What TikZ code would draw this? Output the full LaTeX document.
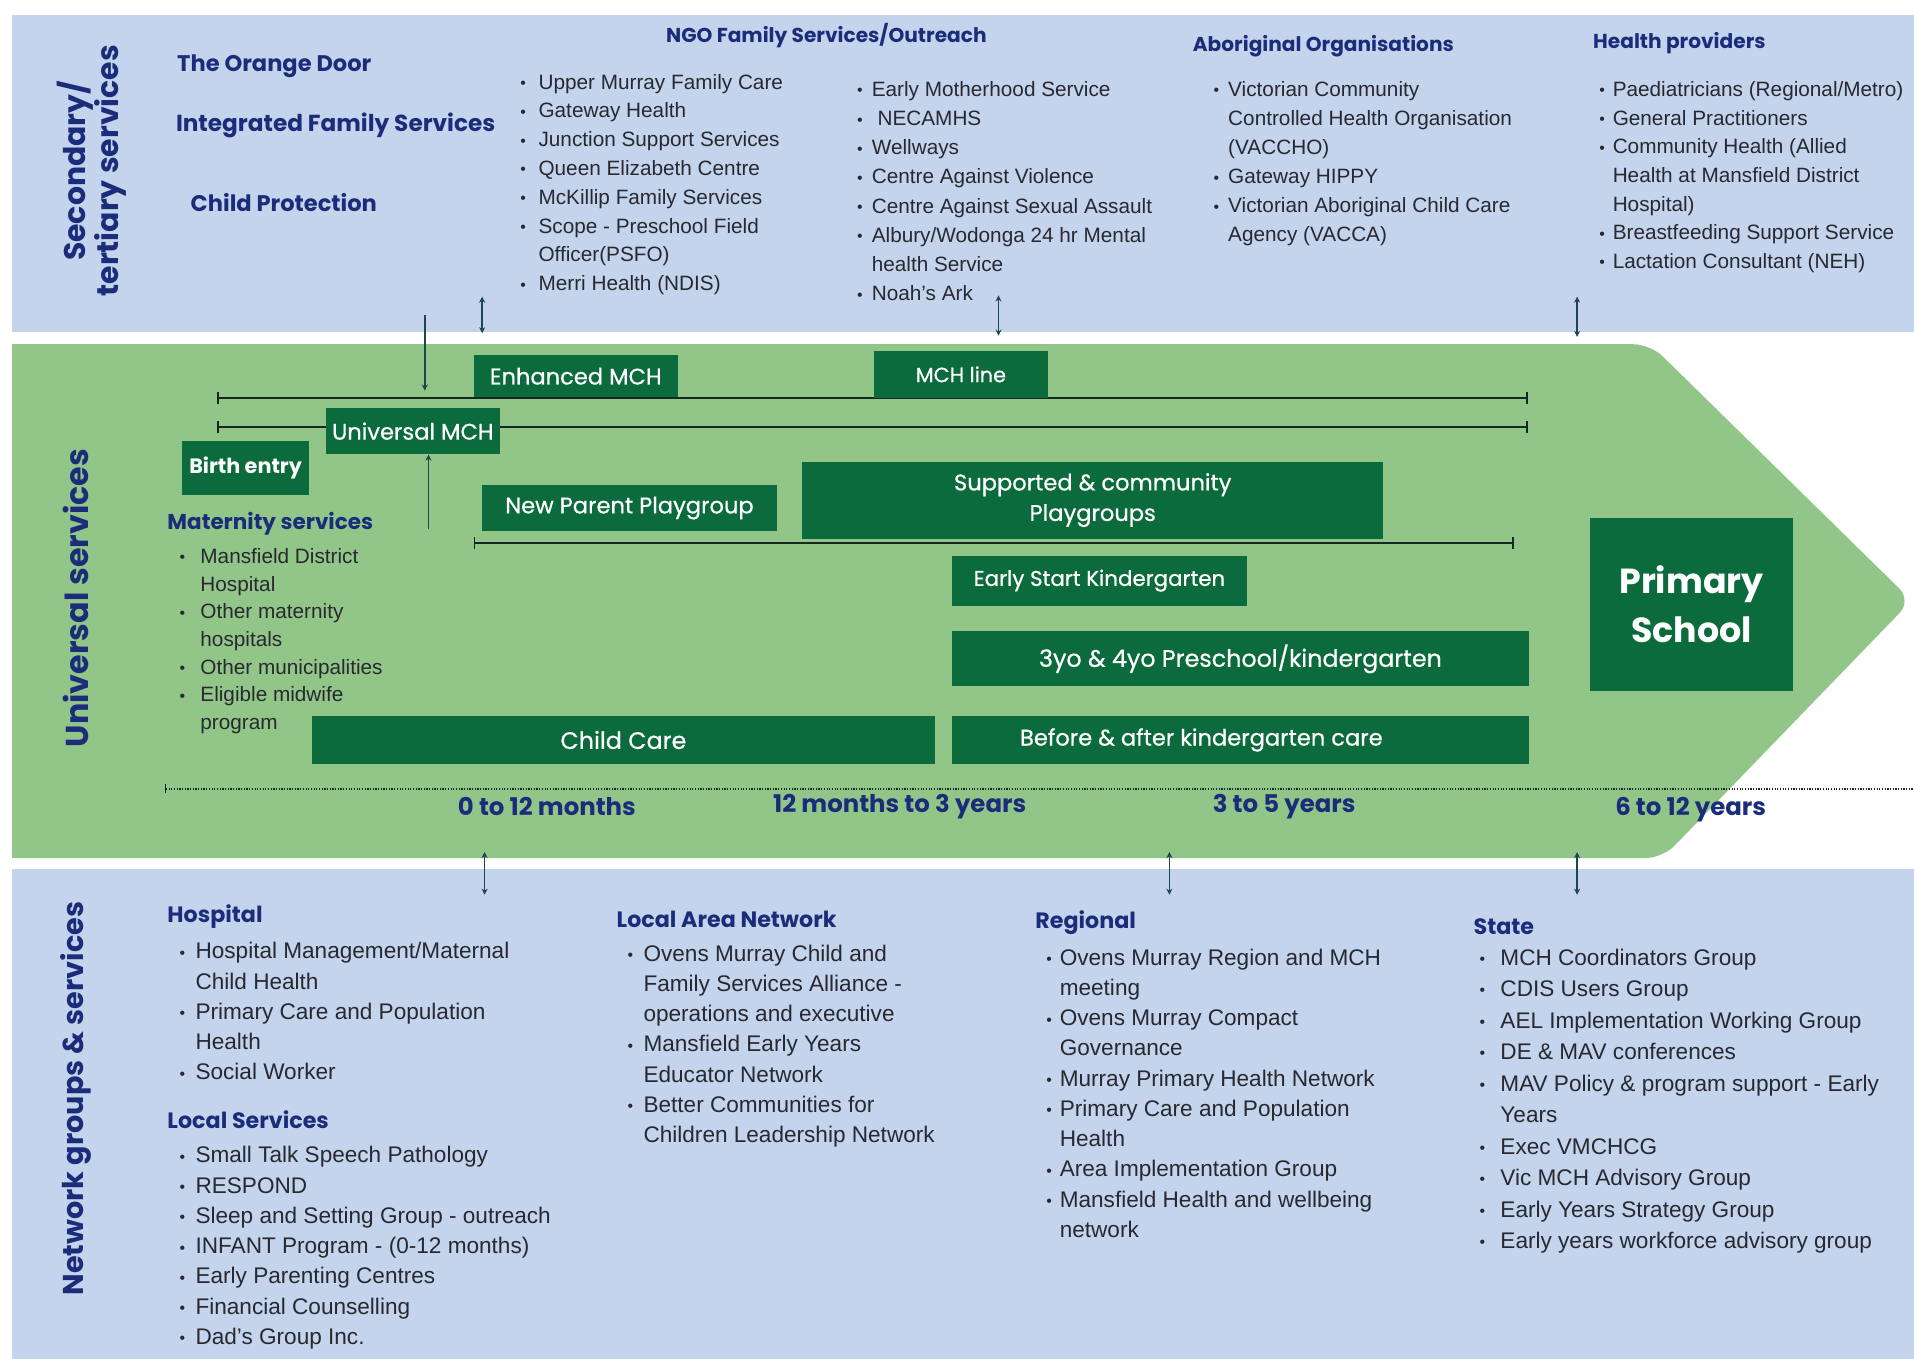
\documentclass[tikz,border=0pt]{standalone}
\usepackage{fontspec}
\setmainfont{Liberation Sans}
\newfontfamily\pop{Poppins}
\newfontfamily\popm[FakeBold=0.6]{Poppins}
\usetikzlibrary{arrows.meta}
\definecolor{panelblue}{RGB}{196,212,236}
\definecolor{panelgreen}{RGB}{146,198,137}
\definecolor{boxgreen}{RGB}{12,107,61}
\definecolor{navy}{RGB}{27,45,122}
\definecolor{bodytext}{RGB}{40,40,48}
\definecolor{linec}{RGB}{22,38,32}
\definecolor{arrc}{RGB}{30,70,80}
\newcommand\bi[2][13pt]{\makebox[#1][l]{\raisebox{0.5pt}{\fontsize{13}{13}\selectfont\textbullet}}#2}
\newcommand\ct[2][13pt]{\hspace*{#1}#2}
\tikzset{
 gbox/.style={fill=boxgreen, text=white, inner sep=0pt, anchor=north west, align=center, font=\popm\fontsize{18.5}{25}\selectfont},
 lst/.style={inner sep=0pt, anchor=north west, align=left, text=bodytext},
 hd/.style={inner sep=0pt, anchor=west, text=navy, font=\pop\bfseries\fontsize{16.5}{18}\selectfont},
 hdb/.style={inner sep=0pt, anchor=west, text=navy, font=\pop\bfseries\fontsize{18.2}{20}\selectfont},
 bighd/.style={inner sep=0pt, anchor=west, text=navy, font=\pop\bfseries\fontsize{18.5}{20}\selectfont},
 vlab/.style={inner sep=0pt, rotate=90, text=navy, align=center, font=\pop\bfseries\fontsize{24.5}{27}\selectfont},
 agelab/.style={inner sep=0pt, text=navy, font=\pop\bfseries\fontsize{20}{22}\selectfont},
 tl/.style={line width=1.8pt, draw=linec, arrows={Bar[width=10pt,line width=1.5pt]-Bar[width=10pt,line width=1.5pt]}},
 dbl/.style={line width=1.2pt, draw=arrc, arrows={Stealth[length=5pt,width=5pt]-Stealth[length=5pt,width=5pt]}},
 sgl/.style={line width=1.2pt, draw=arrc, arrows={-Stealth[length=5pt,width=5pt]}},
}
\begin{document}
\begin{tikzpicture}[x=1pt,y=-1pt]
\useasboundingbox (0,0) rectangle (1568,1113);
\fill[white] (0,0) rectangle (1568,1113);
% panels
\fill[panelblue] (10,12) rectangle (1568,272);
\fill[panelblue] (10,712) rectangle (1568,1113);
\fill[panelgreen] (10,703) -- (10,282) [rounded corners=14pt] -- (1352,282) -- (1566,492) -- (1362,703) [sharp corners] -- cycle;

% vertical labels
\node[vlab] (sec) at (75,140) {Secondary/\\tertiary services};
\node[vlab, font=\pop\bfseries\fontsize{26}{28}\selectfont] (uni) at (62,490) {Universal services};
\node[vlab, font=\pop\bfseries\fontsize{23.5}{26}\selectfont] (net) at (62,900) {Network groups \& services};

% top panel
\node[bighd] (orange) at (145,54) {The Orange Door};
\node[bighd, font=\pop\bfseries\fontsize{19}{21}\selectfont] (ifs) at (144,103) {Integrated Family Services};
\node[bighd] (cp) at (156,166) {Child Protection};
\node[hd, anchor=center] (ngoh) at (677,29) {NGO Family Services/Outreach};
\node[hd] (aboh) at (977,38) {Aboriginal Organisations};
\node[hd] (hph) at (1305,35) {Health providers};

\node[lst, font={\fontsize{17}{23.6}\selectfont}] (ngoL) at (426,60.5) {%
\bi[15pt]{Upper Murray Family Care}\\
\bi[15pt]{Gateway Health}\\
\bi[15pt]{Junction Support Services}\\
\bi[15pt]{Queen Elizabeth Centre}\\
\bi[15pt]{McKillip Family Services}\\
\bi[15pt]{Scope - Preschool Field}\\
\ct[15pt]{Officer(PSFO)}\\
\bi[15pt]{Merri Health (NDIS)}};

\node[lst, font={\fontsize{17}{23.9}\selectfont}] (ngoR) at (702,66.5) {%
\bi[12pt]{Early Motherhood Service}\\
\bi[12pt]{\ NECAMHS}\\
\bi[12pt]{Wellways}\\
\bi[12pt]{Centre Against Violence}\\
\bi[12pt]{Centre Against Sexual Assault}\\
\bi[12pt]{Albury/Wodonga 24 hr Mental}\\
\ct[12pt]{health Service}\\
\bi[12pt]{Noah’s Ark}};

\node[lst, font={\fontsize{17}{23.8}\selectfont}] (abo) at (994,66.5) {%
\bi[12pt]{Victorian Community}\\
\ct[12pt]{Controlled Health Organisation}\\
\ct[12pt]{(VACCHO)}\\
\bi[12pt]{Gateway HIPPY}\\
\bi[12pt]{Victorian Aboriginal Child Care}\\
\ct[12pt]{Agency (VACCA)}};

\node[lst, font={\fontsize{17}{23.5}\selectfont}] (hp) at (1310,66.5) {%
\bi[11pt]{Paediatricians (Regional/Metro)}\\
\bi[11pt]{General Practitioners}\\
\bi[11pt]{Community Health (Allied}\\
\ct[11pt]{Health at Mansfield District}\\
\ct[11pt]{Hospital)}\\
\bi[11pt]{Breastfeeding Support Service}\\
\bi[11pt]{Lactation Consultant (NEH)}};

% green panel: timelines
\coordinate (l1s) at (178,326); \coordinate (l1e) at (1252,326);
\coordinate (l2s) at (178,350); \coordinate (l2e) at (1252,350);
\coordinate (l3s) at (388,445); \coordinate (l3e) at (1240,445);
\draw[tl] (l1s) -- (l1e);
\draw[tl] (l2s) -- (l2e);
\draw[tl] (l3s) -- (l3e);
\coordinate (ds) at (135,646); \coordinate (de) at (1568,646);
\draw[line width=1.6pt, draw=linec, dash pattern=on 1pt off 1.2pt, arrows={Bar[width=8pt,line width=1.2pt]-}] (ds) -- (de);

% boxes
\node[gbox, minimum width=167pt, minimum height=34pt] (enh) at (388,291) {Enhanced MCH};
\node[gbox, minimum width=142pt, minimum height=39pt, font=\popm\fontsize{17}{20}\selectfont] (mchl) at (716,287) {MCH line};
\node[gbox, minimum width=142pt, minimum height=38pt] (umch) at (267,334) {Universal MCH};
\node[gbox, minimum width=104pt, minimum height=44pt, font=\pop\bfseries\fontsize{17}{20}\selectfont] (birth) at (149,361) {Birth entry};
\node[gbox, minimum width=241pt, minimum height=38pt] (npp) at (395,397) {New Parent Playgroup};
\node[gbox, minimum width=476pt, minimum height=63pt] (supp) at (657,378) {Supported \& community\\Playgroups};
\node[gbox, minimum width=241pt, minimum height=41pt, font=\popm\fontsize{17.5}{20}\selectfont] (esk) at (780,455) {Early Start Kindergarten};
\node[gbox, minimum width=472pt, minimum height=45pt, font=\popm\fontsize{19.5}{22}\selectfont] (pre) at (780,517) {3yo \& 4yo Preschool/kindergarten};
\node[gbox, minimum width=511pt, minimum height=40pt, font=\popm\fontsize{19.5}{22}\selectfont] (cc) at (255,586) {Child Care};
\node[gbox, minimum width=472pt, minimum height=40pt] (baka) at (780,586) {Before \& after kindergarten care\hspace*{64pt}};
\node[gbox, minimum width=167pt, minimum height=142pt, font=\pop\bfseries\fontsize{28.5}{40}\selectfont] (ps) at (1302,424) {Primary\\School};

% maternity
\node[hd, font=\pop\bfseries\fontsize{17.6}{20}\selectfont] (math) at (137,429) {Maternity services};
\node[lst, font={\fontsize{17}{22.7}\selectfont}] (matl) at (147,449) {%
\bi[17pt]{Mansfield District}\\
\ct[17pt]{Hospital}\\
\bi[17pt]{Other maternity}\\
\ct[17pt]{hospitals}\\
\bi[17pt]{Other municipalities}\\
\bi[17pt]{Eligible midwife}\\
\ct[17pt]{program}};

% age labels
\node[agelab] (age1) at (448,661) {0 to 12 months};
\node[agelab] (age2) at (737,661) {12 months to 3 years};
\node[agelab] (age3) at (1052,661) {3 to 5 years};
\node[agelab] (age4) at (1385,663) {6 to 12 years};

% arrows
\coordinate (dA) at (348,258); \coordinate (dB) at (348,320);
\draw[sgl] (dA) -- (dB);
\coordinate (uA) at (351,433);
\draw[sgl] (uA) -- (uA |- umch.south);
\coordinate (t1a) at (395,243); \coordinate (t1b) at (395,273);
\coordinate (t2a) at (818,242); \coordinate (t2b) at (818,275);
\coordinate (t3a) at (1292,243); \coordinate (t3b) at (1292,276);
\draw[dbl] (t1a) -- (t1b);
\draw[dbl] (t2a) -- (t2b);
\draw[dbl] (t3a) -- (t3b);
\coordinate (b1a) at (397,698); \coordinate (b1b) at (397,733);
\coordinate (b2a) at (958,698); \coordinate (b2b) at (958,733);
\coordinate (b3a) at (1292,698); \coordinate (b3b) at (1292,733);
\draw[dbl] (b1a) -- (b1b);
\draw[dbl] (b2a) -- (b2b);
\draw[dbl] (b3a) -- (b3b);

% bottom panel
\node[hdb] (hosph) at (137,751) {Hospital};
\node[lst, font={\fontsize{18.5}{24.75}\selectfont}] (hospl) at (147,772) {%
\bi{Hospital Management/Maternal}\\
\ct{Child Health}\\
\bi{Primary Care and Population}\\
\ct{Health}\\
\bi{Social Worker}};
\node[hdb] (lsh) at (137,917) {Local Services};
\node[lst, font={\fontsize{18.5}{24.8}\selectfont}] (lsl) at (147,939) {%
\bi{Small Talk Speech Pathology}\\
\bi{RESPOND}\\
\bi{Sleep and Setting Group - outreach}\\
\bi{INFANT Program - (0-12 months)}\\
\bi{Early Parenting Centres}\\
\bi{Financial Counselling}\\
\bi{Dad’s Group Inc.}};
\node[hdb] (lanh) at (505,753) {Local Area Network};
\node[lst, font={\fontsize{18.5}{24.7}\selectfont}] (lanl) at (514,774) {%
\bi{Ovens Murray Child and}\\
\ct{Family Services Alliance -}\\
\ct{operations and executive}\\
\bi{Mansfield Early Years}\\
\ct{Educator Network}\\
\bi{Better Communities for}\\
\ct{Children Leadership Network}};
\node[hdb] (regh) at (848,756) {Regional};
\node[lst, font={\fontsize{18.5}{24.8}\selectfont}] (regl) at (857,777) {%
\bi[11pt]{Ovens Murray Region and MCH}\\
\ct[11pt]{meeting}\\
\bi[11pt]{Ovens Murray Compact}\\
\ct[11pt]{Governance}\\
\bi[11pt]{Murray Primary Health Network}\\
\bi[11pt]{Primary Care and Population}\\
\ct[11pt]{Health}\\
\bi[11pt]{Area Implementation Group}\\
\bi[11pt]{Mansfield Health and wellbeing}\\
\ct[11pt]{network}};
\node[hdb] (stateh) at (1207,759) {State};
\node[lst, font={\fontsize{18.5}{25.8}\selectfont}] (statel) at (1212,777) {%
\bi[17pt]{MCH Coordinators Group}\\
\bi[17pt]{CDIS Users Group}\\
\bi[17pt]{AEL Implementation Working Group}\\
\bi[17pt]{DE \& MAV conferences}\\
\bi[17pt]{MAV Policy \& program support - Early}\\
\ct[17pt]{Years}\\
\bi[17pt]{Exec VMCHCG}\\
\bi[17pt]{Vic MCH Advisory Group}\\
\bi[17pt]{Early Years Strategy Group}\\
\bi[17pt]{Early years workforce advisory group}};
\end{tikzpicture}
\end{document}
